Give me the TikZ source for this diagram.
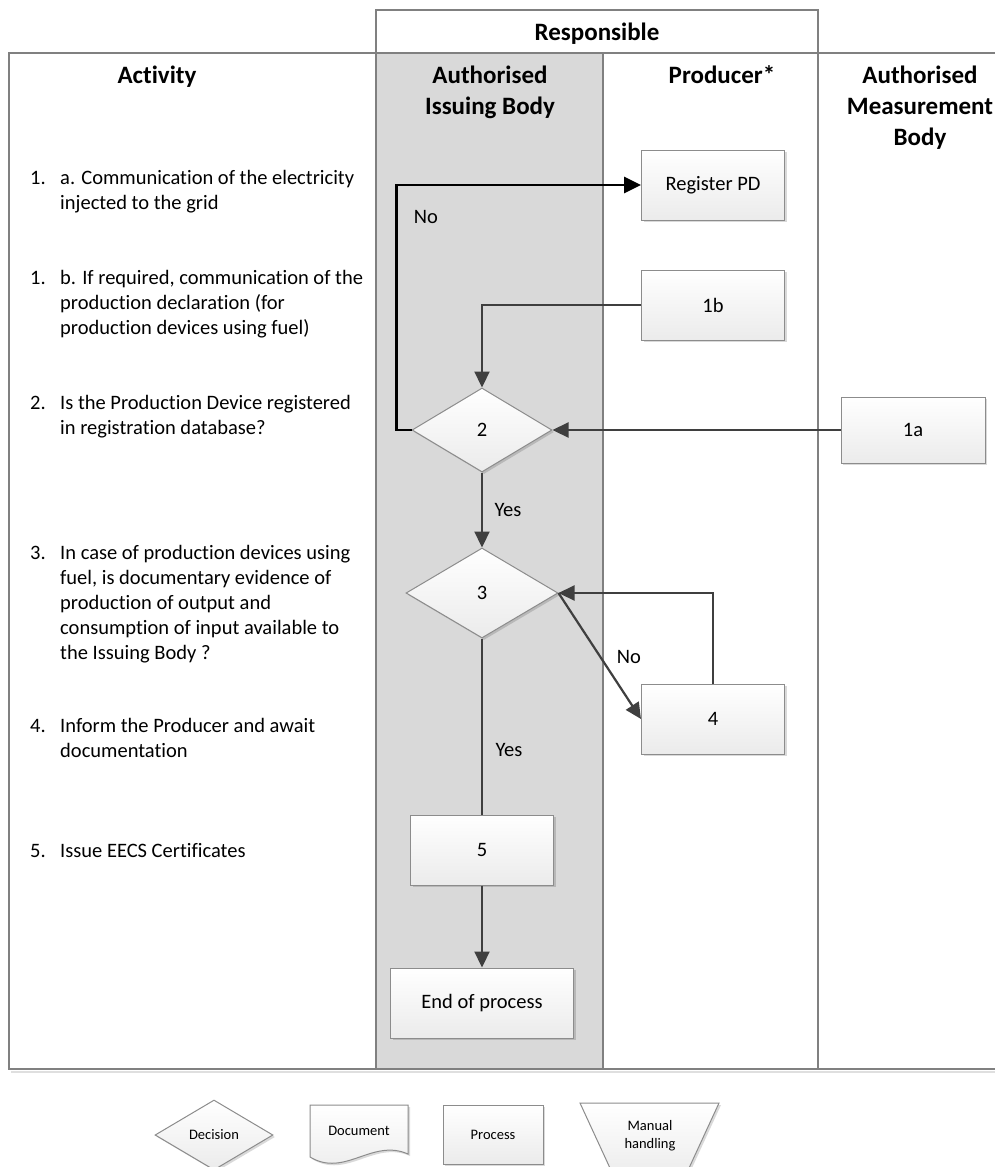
\documentclass[tikz,border=0pt]{standalone}
\usepackage{fontspec}
\setmainfont{Carlito}[Ligatures=NoCommon]
\usetikzlibrary{arrows.meta,shapes.geometric,shadows}
\definecolor{lanegray}{HTML}{808080}
\definecolor{colgray}{HTML}{D9D9D9}
\definecolor{boxgray}{HTML}{8C8C8C}
\definecolor{boxbot}{HTML}{EBEBEB}
\definecolor{arrowgray}{HTML}{3F3F3F}
\newcommand\fsmain{\fontsize{20.5bp}{25bp}\selectfont}
\newcommand\fshead{\fontsize{25bp}{31bp}\selectfont\bfseries}
\newcommand\fsleg{\fontsize{14.5bp}{18bp}\selectfont}
\tikzset{
  laneline/.style={draw=lanegray, line width=1.2bp},
  shapebase/.style={draw=boxgray, line width=1bp, top color=white, bottom color=boxbot, inner sep=0pt,
    drop shadow={shadow xshift=2bp, shadow yshift=-2bp, fill=black, opacity=0.15}},
  procbox/.style={shapebase, rectangle, minimum width=143bp, minimum height=70bp, font=\fsmain},
  decbox/.style={shapebase, diamond, font=\fsmain},
  flow/.style={draw=arrowgray, line width=2.2bp, -{Triangle[length=16bp,width=15bp]}},
  flownotip/.style={draw=arrowgray, line width=2.2bp},
  noflow/.style={draw=black, line width=2.8bp, -{Triangle[length=17bp,width=16bp]}},
  flowlabel/.style={font=\fsmain, inner sep=0pt},
  acttext/.style={font=\fsmain, inner sep=0pt, anchor=north west, align=left},
  headtext/.style={font=\fshead, inner sep=0pt, anchor=north, align=center},
  legtext/.style={font=\fsleg, inner sep=0pt, align=center},
}
\begin{document}
\begin{tikzpicture}[x=1bp,y=-1bp]
\useasboundingbox (0,0) rectangle (995,1167);
\clip (0,0) rectangle (995,1167);
% swimlane background
\fill[colgray] (376,53) rectangle (603,1069);
\draw[gray!25, line width=2bp] (11,1071.5) -- (995,1071.5);
\draw[laneline] (995,53) -- (9,53) -- (9,1069) -- (995,1069);
\draw[laneline] (376,1069) -- (376,10) -- (818,10) -- (818,1069);
\draw[laneline] (603,53) -- (603,1069);
% headers
\node[headtext] (hresp) at (597,18.3) {\strut Responsible};
\node[headtext] (hact) at (157,61.3) {\strut Activity};
\node[headtext] (hib) at (490,61.3) {\strut Authorised\\Issuing Body};
\node[headtext] (hprod) at (722,61.3) {\strut Producer*};
\node[headtext] (hmb) at (920,61.3) {\strut Authorised\\Measurement\\Body};
% activity list
\node[acttext] (k1a) at (30,166.5) {\strut 1.};
\node[acttext] (t1a) at (60,166.5) {\strut a. Communication of the electricity\\injected to the grid};
\node[acttext] (k1b) at (30,266.5) {\strut 1.};
\node[acttext] (t1b) at (60,266.5) {\strut b. If required, communication of the\\production declaration (for\\production devices using fuel)};
\node[acttext] (k2) at (30,391.5) {\strut 2.};
\node[acttext] (t2) at (60,391.5) {\strut Is the Production Device registered\\in registration database?};
\node[acttext] (k3) at (30,541.5) {\strut 3.};
\node[acttext] (t3) at (60,541.5) {\strut In case of production devices using\\fuel, is documentary evidence of\\production of output and\\consumption of input available to\\the Issuing Body ?};
\node[acttext] (k4) at (30,714.5) {\strut 4.};
\node[acttext] (t4) at (60,714.5) {\strut Inform the Producer and await\\documentation};
\node[acttext] (k5) at (30,839.5) {\strut 5.};
\node[acttext] (t5) at (60,839.5) {\strut Issue EECS Certificates};
% flow nodes
\node[procbox] (reg) at (713,185) {Register PD};
\node[procbox] (b1) at (713,305) {1b};
\node[procbox, minimum width=144bp, minimum height=66bp] (a1) at (913,430) {1a};
\node[decbox, minimum width=140bp, minimum height=84bp] (d2) at (482,430) {2};
\node[decbox, minimum width=152bp, minimum height=90bp] (d3) at (482,593) {3};
\node[procbox] (n4) at (713,719) {4};
\node[procbox] (n5) at (482,850) {5};
\node[procbox, minimum width=183bp] (fin) at (482,1003) {End of process};
% connectors
\draw[noflow] (d2.west) -- ++(-15,0) |- (reg.west);
\draw[flow] (b1.west) -| (d2.north);
\draw[flow] (a1.west) -- (d2.east);
\draw[flow] (d2.south) -- (d3.north);
\draw[flow] (d3.east) -- (n4.west);
\draw[flow] (n4.north) |- (d3.east);
\draw[flownotip] (d3.south) -- (n5.north);
\draw[flow] (n5.south) -- (fin.north);
% connector labels
\node[flowlabel] (lno1) at (426,217) {No};
\node[flowlabel] (lyes1) at (508,510) {Yes};
\node[flowlabel] (lno2) at (629,657) {No};
\node[flowlabel] (lyes2) at (509,750) {Yes};
% legend
\node[shapebase, diamond, minimum width=118bp, minimum height=70bp, font=\fsleg] (legdec) at (214,1135) {Decision};
\path[shapebase] (310,1105) -- (408,1105) -- (408,1154) .. controls (372,1138) and (345,1178) .. (310,1157) -- cycle;
\node[legtext] (legdoc) at (359,1131) {Document};
\node[shapebase, rectangle, minimum width=100bp, minimum height=59bp, font=\fsleg] (legproc) at (493,1134.5) {Process};
\path[shapebase] (580,1103) -- (719,1103) -- (683.5,1180) -- (615.5,1180) -- cycle;
\node[legtext] (legman) at (650,1136) {Manual\\handling};
\end{tikzpicture}
\end{document}
